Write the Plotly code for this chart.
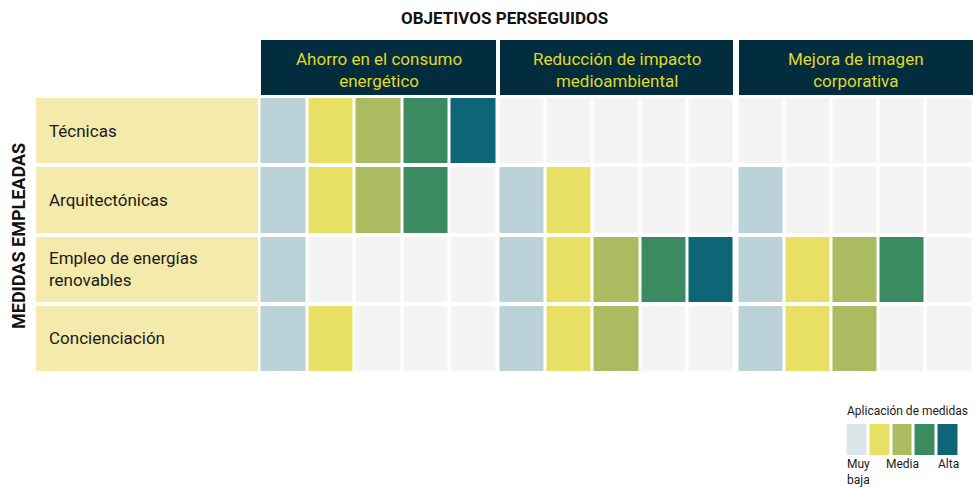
import plotly.graph_objects as go

# ---------------- data ----------------
rows = ["Técnicas", "Arquitectónicas", "Empleo de energías<br>renovables", "Concienciación"]
objectives = ["Ahorro en el consumo<br>energético",
              "Reducción de impacto<br>medioambiental",
              "Mejora de imagen<br>corporativa"]
level_labels = ["Muy<br>baja", "", "Media", "", "Alta"]
n_levels = 5
ahorro = [5, 4, 1, 2]
reduccion = [0, 2, 5, 3]
mejora = [0, 1, 4, 3]
group_values = [ahorro, reduccion, mejora]

empty_color = "#f4f4f4"
level_colors = ["#bbd2d8", "#e8df65", "#abbb5f", "#3a8c60", "#0e6577"]
legend_colors = ["#dae5ea", "#e8df65", "#abbb5f", "#3a8c60", "#0e6577"]
label_bg = "#f3eaab"
header_bg = "#022d3f"
header_fg = "#e0d82a"

FONT = "Roboto, Liberation Sans, sans-serif"
W, H = 973, 487


def px(x):
    return x / W


def py(y):
    return 1 - y / H


def discrete_scale(colors):
    n = len(colors)
    cs = []
    for i, c in enumerate(colors):
        cs.append([i / n, c])
        cs.append([(i + 1) / n, c])
    return cs


fig = go.Figure()

grid_y = [py(373), py(96)]
group_x = [(259.5, 497.5), (498.5, 734.5), (737.5, 973.0)]

# row label column
fig.add_trace(go.Heatmap(
    z=[[0] for _ in rows], x=[0], y=list(range(len(rows))),
    colorscale=[[0, label_bg], [1, label_bg]], showscale=False,
    xgap=3, ygap=4, hoverinfo="skip", xaxis="x", yaxis="y"))

all_colors = [empty_color] + level_colors
for g, vals in enumerate(group_values):
    z = [[(lv + 1) if lv < v else 0 for lv in range(n_levels)] for v in vals]
    fig.add_trace(go.Heatmap(
        z=z, x=list(range(n_levels)), y=list(range(len(rows))),
        colorscale=discrete_scale(all_colors), zmin=-0.5, zmax=n_levels + 0.5,
        showscale=False, xgap=3, ygap=4, hoverinfo="skip",
        xaxis="x%d" % (g + 2), yaxis="y"))

# legend heatmap
fig.add_trace(go.Heatmap(
    z=[list(range(n_levels))], x=list(range(n_levels)), y=[0],
    colorscale=discrete_scale(legend_colors), zmin=-0.5, zmax=n_levels - 0.5,
    showscale=False, xgap=3, ygap=0, hoverinfo="skip", xaxis="x5", yaxis="y2"))

ax = dict(showgrid=False, zeroline=False, showticklabels=False, ticks="", fixedrange=True)
layout = dict(
    width=W, height=H, margin=dict(l=0, r=0, t=0, b=0),
    paper_bgcolor="white", plot_bgcolor="white",
    font=dict(family=FONT, color="#1a1a1a"),
    xaxis=dict(domain=[px(35), px(260)], range=[-0.5, 0.5], **ax),
    yaxis=dict(domain=grid_y, range=[len(rows) - 0.5, -0.5], **ax),
    xaxis5=dict(domain=[px(845.5), px(959.5)], range=[-0.5, n_levels - 0.5], anchor="y2", **ax),
    yaxis2=dict(domain=[py(455), py(424)], range=[-0.5, 0.5], anchor="x5", **ax),
)
for g, (a, b) in enumerate(group_x):
    layout["xaxis%d" % (g + 2)] = dict(domain=[px(a), px(b)], range=[-0.5, n_levels - 0.5],
                                      anchor="y", **ax)
fig.update_layout(**layout)

shapes = []
annotations = []
# header boxes
header_px = [(261, 496), (500, 733), (739, 973)]
for (a, b), name in zip(header_px, objectives):
    shapes.append(dict(type="rect", xref="paper", yref="paper", x0=px(a), x1=px(b),
                       y0=py(95), y1=py(40), fillcolor=header_bg, line=dict(width=0), layer="below"))
    annotations.append(dict(x=px((a + b) / 2), y=py(70), xref="paper", yref="paper",
                            text=name, showarrow=False, xanchor="center", yanchor="middle",
                            font=dict(size=17, color=header_fg, family=FONT)))

# row labels
for i, r in enumerate(rows):
    annotations.append(dict(x=px(47), y=i, xref="paper", yref="y", text=r, showarrow=False,
                            xanchor="left", yanchor="middle", align="left",
                            font=dict(size=17, color="#1a1a1a", family=FONT)))

# titles
annotations.append(dict(x=px(505), y=py(18), xref="paper", yref="paper",
                        text="<b>OBJETIVOS PERSEGUIDOS</b>", showarrow=False,
                        xanchor="center", yanchor="middle",
                        font=dict(size=17, color="#111111", family=FONT)))
annotations.append(dict(x=px(18), y=py(236), xref="paper", yref="paper",
                        text="<b>MEDIDAS EMPLEADAS</b>", showarrow=False, textangle=-90,
                        xanchor="center", yanchor="middle",
                        font=dict(size=18, color="#111111", family=FONT)))

# legend texts
annotations.append(dict(x=px(845), y=py(411), xref="paper", yref="paper",
                        text="Aplicación de medidas", showarrow=False,
                        xanchor="left", yanchor="middle",
                        font=dict(size=12, color="#1a1a1a", family=FONT)))
for lv, lab in enumerate(level_labels):
    if not lab:
        continue
    first = lv == 0
    annotations.append(dict(x=(lv - 0.5) if first else lv, y=py(456), xref="x5", yref="paper",
                            text=lab, showarrow=False,
                            xanchor="left" if first else "center", yanchor="top", align="left",
                            borderpad=0,
                            font=dict(size=12, color="#1a1a1a", family=FONT)))

fig.update_layout(shapes=shapes, annotations=annotations)
fig.write_html("out.html", config={"displayModeBar": False},
               post_script="document.body.style.margin='0';")
